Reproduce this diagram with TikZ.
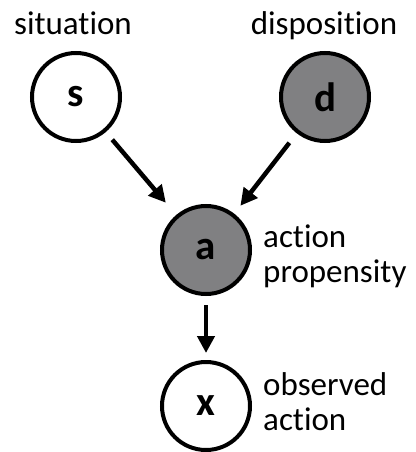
\documentclass[tikz,border=0pt]{standalone}
\usepackage{fontspec}
\setmainfont{Carlito}[Ligatures=NoCommon]
\usetikzlibrary{arrows.meta}
\definecolor{latentgray}{RGB}{128,128,130}
\tikzset{
  var/.style={circle, draw=black, line width=4pt, minimum size=88pt, inner sep=0pt,
    font=\fontsize{41}{41}\selectfont\bfseries},
  observed/.style={var, fill=white},
  latent/.style={var, fill=latentgray},
  lbl/.style={font=\fontsize{33}{35}\selectfont, inner sep=0pt},
  edge/.style={line width=4.5pt, -{Triangle[length=17pt,width=17pt]}}
}
\begin{document}
\begin{tikzpicture}[x=1pt,y=-1pt]
  \useasboundingbox (0,0) rectangle (415,452);
  % variables
  \node[observed] (s) at (76,97) {s};
  \node[latent]   (d) at (325,97) {d};
  \node[latent]   (a) at (206,250) {a};
  \node[observed] (x) at (206,406) {x};
  % labels
  \node[lbl, anchor=base] (ls) at (73,35) {situation};
  \node[lbl, anchor=base] (ld) at (324,35) {disposition};
  \node[lbl, anchor=base west] (la1) at (263,247) {action};
  \node[lbl, anchor=base west] (la2) at (263,282) {propensity};
  \node[lbl, anchor=base west] (lx1) at (263,395) {observed};
  \node[lbl, anchor=base west] (lx2) at (263,430) {action};
  % dependencies
  \draw[edge, shorten <=10pt, shorten >=16pt] (s) -- (a);
  \draw[edge, shorten <=12pt, shorten >=10pt] (d) -- (a);
  \draw[edge, shorten <=9pt, shorten >=7pt] (a) -- (x);
\end{tikzpicture}
\end{document}
